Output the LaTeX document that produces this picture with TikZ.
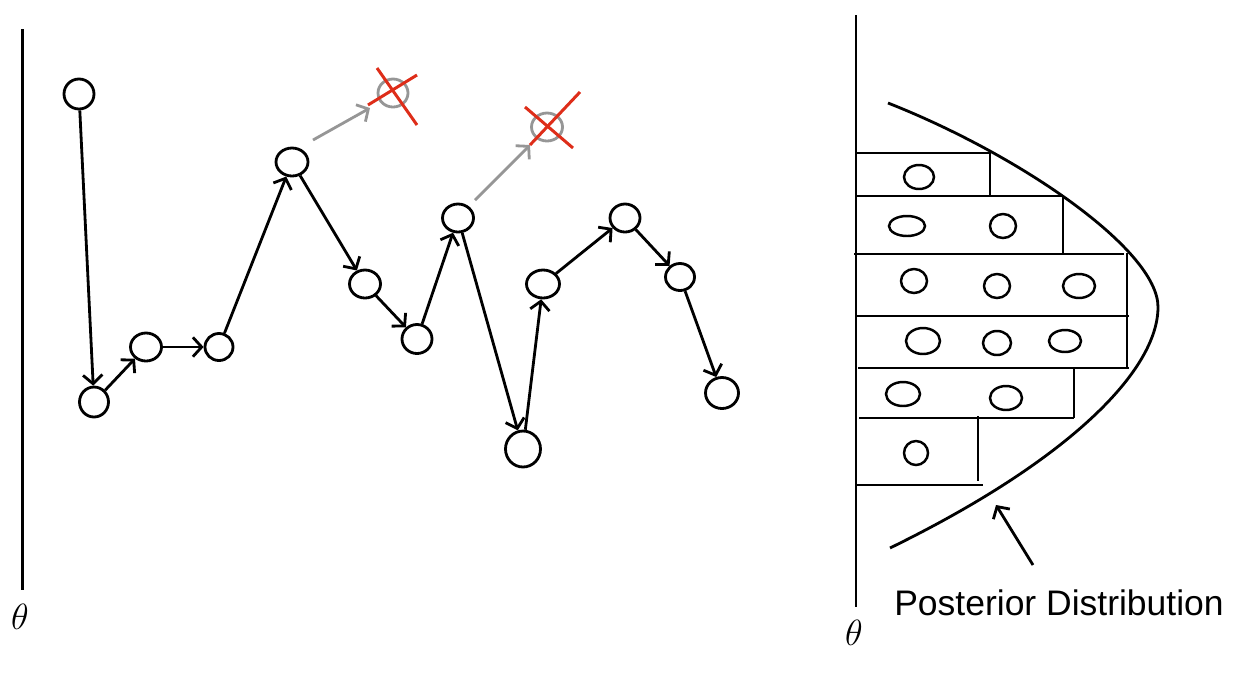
\documentclass[tikz,border=0pt]{standalone}
\usepackage{fontspec}
\newfontfamily\labfont{Liberation Sans}
\usetikzlibrary{arrows.meta,shapes.geometric}
\definecolor{rejgrey}{RGB}{150,150,150}
\definecolor{crossred}{RGB}{222,45,25}
\tikzset{
  st/.style 2 args={ellipse, draw, line width=1.6pt, minimum width=#1*0.02cm, minimum height=#2*0.02cm, inner sep=0pt},
  rej/.style 2 args={ellipse, draw=rejgrey, line width=1.6pt, minimum width=#1*0.02cm, minimum height=#2*0.02cm, inner sep=0pt},
  arr/.style={-{Straight Barb[length=5pt,width=11pt]}, line width=1.6pt},
  garr/.style={-{Straight Barb[length=5pt,width=11pt]}, line width=1.6pt, draw=rejgrey},
  cross/.style={line width=1.7pt, draw=crossred},
  axisline/.style={line width=1.5pt},
  bar/.style={line width=1.4pt},
  bin/.style={line width=1.4pt},
  thetalab/.style={font=\fontsize{20}{24}\selectfont, inner sep=0pt}
}
\begin{document}
\begin{tikzpicture}[x=0.02cm,y=-0.02cm]
\useasboundingbox (0,0) rectangle (1254,674);
% axes
\draw[axisline] (22.5,29) -- (22.5,590);
\node[thetalab] (thL) at (20,617) {$\theta$};
\draw[axisline] (856,15) -- (856,607);
\node[thetalab] (thR) at (854,633) {$\theta$};
% chain
\node[st={30}{30}] (n1) at (79,94) {};
\node[st={29}{30}] (n2) at (94,402) {};
\node[st={31}{28}] (n3) at (146,347) {};
\node[st={28}{27}] (n4) at (219,347) {};
\node[st={32}{28}] (n5) at (292,162) {};
\node[st={31}{28}] (n6) at (365,284) {};
\node[st={30}{29}] (n7) at (417,339) {};
\node[st={31}{28}] (n8) at (458,218) {};
\node[st={35}{36}] (n9) at (523,449) {};
\node[st={33}{28}] (n10) at (543,284) {};
\node[st={30}{28}] (n11) at (625,218) {};
\node[st={29}{27}] (n12) at (680,277) {};
\node[st={33}{31}] (n13) at (722,393) {};
\node[rej={30}{28}] (r1) at (393,93) {};
\node[rej={31}{28}] (r2) at (547,127) {};
\draw[arr] (n1) -- (n2);
\draw[arr] (n2) -- (n3);
\draw[arr] (n3) -- (n4);
\draw[arr] (n4) -- (n5);
\draw[arr] (n5) -- (n6);
\draw[arr] (n6) -- (n7);
\draw[arr] (n7) -- (n8);
\draw[arr] (n8) -- (n9);
\draw[arr] (n9) -- (n10);
\draw[arr] (n10) -- (n11);
\draw[arr] (n11) -- (n12);
\draw[arr] (n12) -- (n13);
% rejected proposals
\draw[garr] ([shift={(21,-22)}]n5.center) -- ([shift={(-23,15)}]r1.center);
\draw[garr] ([shift={(17,-18)}]n8.center) -- ([shift={(-17,18)}]r2.center);
\draw[cross] (368,105) -- (417,75);
\draw[cross] (377,68) -- (417,125);
\draw[cross] (525,107) -- (573,148);
\draw[cross] (530,145) -- (580,92);
% histogram
\draw[bar] (856,153) -- (990,153) -- (990,197);
\draw[bar] (856,196) -- (1063,196) -- (1063,254);
\draw[bar] (854,254) -- (1124,254);
\draw[bar] (1127,253) -- (1127,368);
\draw[bar] (856,316) -- (1129,316);
\draw[bar] (858,368) -- (1129,368);
\draw[bar] (1074,368) -- (1074,418);
\draw[bar] (859,418) -- (1074,418);
\draw[bar] (978,416) -- (978,481);
\draw[bar] (856,485) -- (983,485);
% samples in bins
\draw[bin] (919,177) ellipse [x radius=15, y radius=12];
\draw[bin] (907,226) ellipse [x radius=18, y radius=10];
\draw[bin] (1003,226) ellipse [x radius=13, y radius=12];
\draw[bin] (914,281) ellipse [x radius=13, y radius=12];
\draw[bin] (997,286) ellipse [x radius=13, y radius=12];
\draw[bin] (1079,286) ellipse [x radius=16, y radius=12];
\draw[bin] (923,341) ellipse [x radius=17, y radius=13];
\draw[bin] (997,343) ellipse [x radius=14, y radius=12];
\draw[bin] (1065,341) ellipse [x radius=16, y radius=11];
\draw[bin] (903,394) ellipse [x radius=17, y radius=12];
\draw[bin] (1006,398) ellipse [x radius=16, y radius=12];
\draw[bin] (916,453) ellipse [x radius=12, y radius=12];
% posterior curve
\draw[line width=1.6pt] (888,103) .. controls (1020,155) and (1158,250) .. (1158,307)
  .. controls (1158,370) and (1070,460) .. (890,548);
% label
\node[font=\labfont\fontsize{20.2}{24}\selectfont] (post) at (1059,603) {Posterior Distribution};
\coordinate (ptail) at (1033,565);
\coordinate (ptip) at (996,505);
\draw[arr] (ptail) -- (ptip);
\end{tikzpicture}
\end{document}
